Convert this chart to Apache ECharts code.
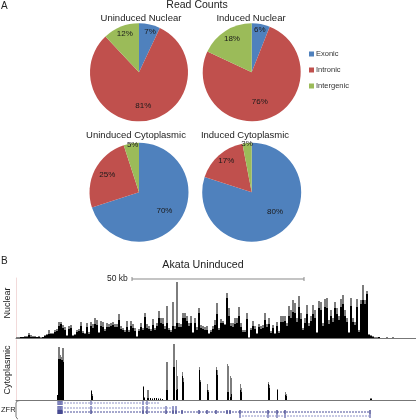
<!DOCTYPE html>
<html>
<head>
<meta charset="utf-8">
<style>html,body{margin:0;padding:0;background:#fff}#c{width:416px;height:420px}</style>
<script src="https://cdn.jsdelivr.net/npm/echarts@6/dist/echarts.min.js"></script>
</head>
<body>
<div id="c"></div>
<script>
const regions = ['Exonic', 'Intronic', 'Intergenic'];
const uninducedNuclear = [7, 81, 12];
const inducedNuclear = [6, 76, 18];
const uninducedCytoplasmic = [70, 25, 5];
const inducedCytoplasmic = [80, 17, 3];

// Nuclear coverage, one value per coarse bin starting at the left of the track
const nuclearTotal = [
1,1,1,1,2,2,5,3,2,2,1,2,1,1,3,4,8,5,5,8,9,16,16,13,11,3,12,13,3,4,8,9,16,7,5,15,6,16,14,20,18,6,17,16,9,15,14,15,16,14,
14,24,12,10,8,17,8,17,14,10,2,9,15,10,25,14,12,9,19,10,15,27,20,20,12,32,10,8,36,12,56,15,14,25,25,22,15,22,6,20,11,30,13,12,11,12,5,8,12,18,
35,10,19,17,14,45,30,15,15,20,20,31,15,8,8,25,1,10,17,12,5,14,12,13,25,14,20,7,13,5,16,7,22,22,22,15,32,28,38,35,20,42,25,10,20,33,15,22,33,28,
6,37,36,15,39,40,18,28,20,36,30,22,39,43,28,20,6,40,20,16,39,8,38,53,38,47,4,3,2,1,1,1,0,0,0,1,0,0,1,0,0,0,0,0,0,0,0,0,0,0];
const nuclearBlack = [
0,0,1,1,1,1,3,1,1,1,1,1,0,1,2,3,4,4,4,6,7,12,14,10,8,2,9,10,2,3,6,7,12,5,4,11,4,12,10,14,13,5,12,11,7,11,11,12,13,11,
11,18,9,8,6,11,6,12,10,7,1,7,11,8,21,10,9,7,13,8,12,20,15,14,9,15,8,6,12,9,15,11,11,20,20,17,12,15,5,15,8,25,10,9,8,8,4,6,9,13,
24,8,15,15,13,40,22,12,11,14,15,22,11,6,6,19,0,8,12,9,4,11,9,10,18,11,14,5,10,4,12,5,16,16,17,12,22,20,26,25,16,31,19,8,15,24,12,17,24,20,
5,30,28,12,31,30,14,22,16,30,24,18,31,34,22,16,5,32,16,13,31,6,34,38,34,44,3,2,1,0,0,1,0,0,0,0,0,0,0,0,0,0,0,0,0,0,0,0,0,0];
const nuclearBins = nuclearTotal.map((_, i) => String(i));

// Cytoplasmic coverage, sparse peaks on a finer scale: bin index, total height, black height
const cytoBins  = [41,42,43,44,45,46,47,75,76,127,128,131,132,134,136,138,140,142,144,146,150,151,157,158,160,161,166,167,183,184,191,192,200,201,211,212,214,215,224,225,252,253,261,269,270,354,355];
const cytoTotal = [5,53,53,45,43,52,52,10,6,14,3,10,10,2,2,2,2,2,2,1,38,38,56,56,40,24,28,22,33,20,16,10,33,30,36,34,24,22,16,12,18,15,11,8,6,2,2];
const cytoBlack = [5,41,41,41,40,40,38,9,4,13,2,2,2,2,1,2,2,1,1,1,10,10,33,33,10,11,24,18,30,18,10,8,30,25,8,8,3,6,10,8,16,12,10,5,4,1,1];
const cytoLabels = Array.from({length: 400}, (_, i) => String(i));

// Gene model: row on the track, isoform extents and exon positions along the 416 px track scale
const isoforms = [
  {row: 3,  from: 58,  to: 160, exons: [58,59,60,61,62,91,143,147]},
  {row: 8,  from: 58,  to: 177, exons: [58,59,60,61,62,91,143,147,166,173,176]},
  {row: 12, from: 58,  to: 370, exons: [58,59,60,61,62,91,143,147,166,173,176,182,199,207,216,227,230,240,268,277,285,370]},
  {row: 16, from: 239, to: 370, exons: [240,268,277,285,370]}
];

const colors = ['#4f81bd', '#c0504d', '#9bbb59'];
const FONT = '"Liberation Sans", Arial, sans-serif';

function pie(values, center, offsets, radius) {
  return {
    type: 'pie', name: 'Read Counts', center, radius,
    startAngle: 90, clockwise: true, silent: true, animation: false,
    avoidLabelOverlap: false, labelLine: {show: false},
    label: {position: 'inside', formatter: '{c}%', fontFamily: FONT, fontSize: 8, color: '#1a1a1a'},
    data: regions.map((name, i) => ({
      name, value: values[i],
      itemStyle: {color: colors[i]},
      label: {offset: offsets[i]}
    }))
  };
}
function cyto(vals) { return cytoBins.map((b, i) => [b, vals[i]]); }
function bars(data, idx, color) {
  return {type: 'bar', xAxisIndex: idx, yAxisIndex: idx, data, barWidth: '100%', barGap: '-100%',
    itemStyle: {color}, silent: true, animation: false};
}

const series = [
  pie(uninducedNuclear, [139, 72.3], [[5,-14],[0,6],[-4,-13]], 49),
  pie(inducedNuclear, [251.7, 72.3], [[3,-15],[-2,4],[-5,-10]], 49),
  pie(uninducedCytoplasmic, [139, 192.3], [[3,2],[-7,-5],[-2,-20]], 49.5),
  pie(inducedCytoplasmic, [251.7, 192.3], [[7,-3],[-7,-11],[-2,-21]], 49.5),
  bars(nuclearTotal, 0, '#7d7d7d'),
  bars(nuclearBlack, 0, '#000'),
  bars(cyto(cytoTotal), 1, '#7d7d7d'),
  bars(cyto(cytoBlack), 1, '#000')
];
isoforms.forEach((iso, k) => {
  series.push({
    type: 'line', xAxisIndex: 2, yAxisIndex: 2, symbol: 'none', silent: true, animation: false,
    data: [[iso.from, iso.row], [iso.to, iso.row]],
    lineStyle: {color: k === 2 ? '#4a4f9a' : '#8f93c8', width: 1, type: [2, 1]}
  });
  series.push({
    type: 'scatter', xAxisIndex: 2, yAxisIndex: 2, symbol: 'rect', symbolSize: [1.5, 4], silent: true, animation: false,
    data: iso.exons.map(x => [x, iso.row]),
    itemStyle: {color: k === 2 ? '#23277a' : '#5a5fa8'}
  });
});

function titleAt(text, x, y, size) {
  return {text, left: x, top: y, textAlign: 'center',
    textStyle: {fontFamily: FONT, fontSize: size, fontWeight: 'normal', color: '#222'}, padding: 0};
}
const trackGrid = (top, height) => ({left: 16, width: 400, top, height, containLabel: false});
const catAxis = (i, labels) => ({type: 'category', gridIndex: i, data: labels, boundaryGap: true,
  axisLine: {show: true, onZero: false, lineStyle: {color: '#777', width: 1}},
  axisTick: {show: false}, axisLabel: {show: false}, splitLine: {show: false}});
const valAxis = i => ({type: 'value', gridIndex: i, min: 0, max: 60,
  axisLine: {show: true, lineStyle: {color: '#f2dada', width: 1}},
  axisTick: {show: false}, axisLabel: {show: false}, splitLine: {show: false}});

const chart = echarts.init(document.getElementById('c'), null, {renderer: 'canvas'});
chart.setOption({
  backgroundColor: '#fff',
  animation: false,
  title: [
    titleAt('Read Counts', 197, 0, 10.5),
    titleAt('Uninduced Nuclear', 141, 13, 9.5),
    titleAt('Induced Nuclear', 251, 13, 9.5),
    titleAt('Uninduced Cytoplasmic', 136, 130, 9.5),
    titleAt('Induced Cytoplasmic', 245, 130, 9.5),
    titleAt('Akata Uninduced', 203, 260, 10.7)
  ],
  legend: {
    orient: 'vertical', left: 304, top: 45, itemWidth: 5, itemHeight: 5, itemGap: 8,
    icon: 'rect', data: regions, selectedMode: false,
    textStyle: {fontFamily: FONT, fontSize: 7.5, color: '#333', padding: [0, 0, 0, -3]}
  },
  grid: [trackGrid(278, 60), trackGrid(340, 60), trackGrid(400, 20)],
  xAxis: [catAxis(0, nuclearBins), catAxis(1, cytoLabels),
    {type: 'value', gridIndex: 2, min: 16, max: 416, show: false}],
  yAxis: [valAxis(0), valAxis(1),
    {type: 'value', gridIndex: 2, min: 0, max: 20, inverse: true, show: false}],
  series,
  graphic: [
    {type: 'text', x: 1, y: 1, style: {text: 'A', font: '10px ' + FONT, fill: '#222'}},
    {type: 'text', x: 1, y: 256, style: {text: 'B', font: '10px ' + FONT, fill: '#222'}},
    {type: 'text', x: 107, y: 274, style: {text: '50 kb', font: '8.5px ' + FONT, fill: '#222'}},
    {type: 'line', shape: {x1: 132, y1: 279, x2: 304, y2: 279}, style: {stroke: '#8a8a8a', lineWidth: 1.2}},
    {type: 'line', shape: {x1: 132, y1: 277, x2: 132, y2: 281}, style: {stroke: '#8a8a8a', lineWidth: 1}},
    {type: 'line', shape: {x1: 304, y1: 277, x2: 304, y2: 281}, style: {stroke: '#8a8a8a', lineWidth: 1}},
    {type: 'text', x: 8, y: 303, rotation: Math.PI / 2,
      style: {text: 'Nuclear', font: '9px ' + FONT, fill: '#222', align: 'center', verticalAlign: 'middle'}},
    {type: 'text', x: 8, y: 370, rotation: Math.PI / 2,
      style: {text: 'Cytoplasmic', font: '9px ' + FONT, fill: '#222', align: 'center', verticalAlign: 'middle'}},
    {type: 'text', x: 1, y: 406, style: {text: 'ZFR', font: '7.5px ' + FONT, fill: '#222'}},
    {type: 'polyline', shape: {points: [[20, 400.5], [17, 401], [16, 403], [16, 416.5], [17, 418.5], [18, 419]]},
      style: {stroke: '#777', lineWidth: 1, fill: null}}
  ]
});
</script>
</body>
</html>
